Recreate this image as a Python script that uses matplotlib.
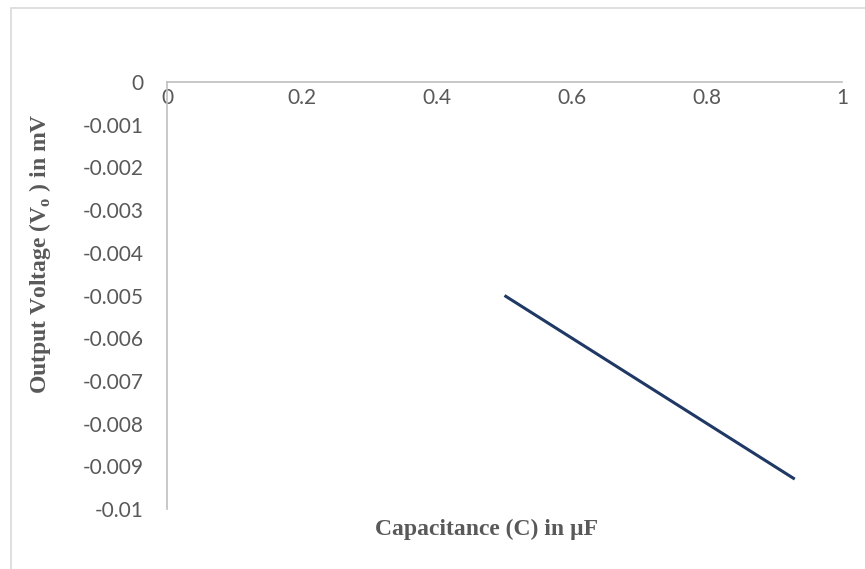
import matplotlib
matplotlib.use("Agg")
import matplotlib.pyplot as plt
from matplotlib.patches import Rectangle

capacitance = [0.5, 0.93]
voltage = [-0.005, -0.0093]
x_ticks = [0, 0.2, 0.4, 0.6, 0.8, 1]
x_ticklabels = ["0", "0.2", "0.4", "0.6", "0.8", "1"]
y_ticks = [0, -0.001, -0.002, -0.003, -0.004, -0.005, -0.006, -0.007, -0.008, -0.009, -0.01]
y_ticklabels = ["0", "-0.001", "-0.002", "-0.003", "-0.004", "-0.005", "-0.006",
                "-0.007", "-0.008", "-0.009", "-0.01"]

W, H = 865, 569
fig = plt.figure(figsize=(W / 100, H / 100), dpi=100)
fig.patch.set_facecolor("white")

# outer chart frame (partially cropped)
fig.add_artist(Rectangle((11 / W, -0.05), 1.0, 1 - 8 / H + 0.05, transform=fig.transFigure,
                         fill=False, edgecolor="#d9d9d9", linewidth=1.2))

ax = fig.add_axes([167 / W, 1 - 509 / H, (842 - 167) / W, (509 - 82) / H])
ax.plot(capacitance, voltage, color="#1f3864", linewidth=2.2, solid_capstyle="butt")
ax.set_xlim(0, 1)
ax.set_ylim(-0.01, 0)

for s in ["right", "bottom"]:
    ax.spines[s].set_visible(False)
for s in ["left", "top"]:
    ax.spines[s].set_color("#bfbfbf")
    ax.spines[s].set_linewidth(1.2)

ax.set_xticks(x_ticks)
ax.set_xticklabels(x_ticklabels)
ax.set_yticks(y_ticks)
ax.set_yticklabels(y_ticklabels)
ax.tick_params(axis="both", length=0, labelsize=15, labelcolor="#595959")
ax.tick_params(axis="x", top=True, labeltop=True, bottom=False, labelbottom=False, pad=-19)
ax.tick_params(axis="y", pad=17)
for lab in ax.get_xticklabels() + ax.get_yticklabels():
    lab.set_fontfamily("Lato")

fig.text(487 / W, 1 - 529 / H, "Capacitance (C) in µF", ha="center", va="center",
         fontsize=17, fontweight="bold", family="Liberation Serif", color="#595959")
fig.text(40 / W, 1 - 254 / H, "Output Voltage (V$_\\mathregular{o}$ ) in mV", ha="center", va="center",
         rotation=90, fontsize=17, fontweight="bold", family="Liberation Serif", color="#595959")

fig.savefig("out.png", dpi=100)
